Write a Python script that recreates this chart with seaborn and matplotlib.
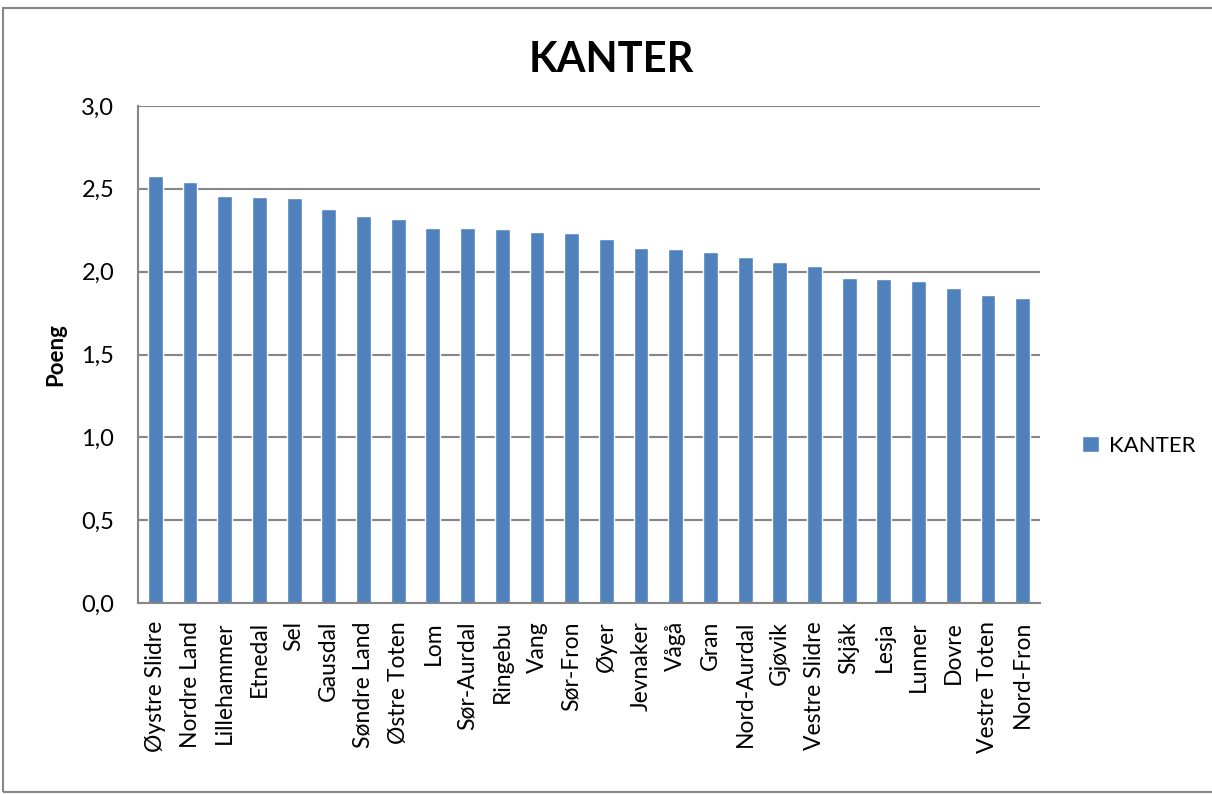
import matplotlib
matplotlib.use("Agg")
import matplotlib.pyplot as plt
import seaborn as sns
import pandas as pd
import numpy as np
from matplotlib.patches import Rectangle
from matplotlib.ticker import FixedLocator, FuncFormatter

categories = ["Øystre Slidre", "Nordre Land", "Lillehammer", "Etnedal", "Sel", "Gausdal",
              "Søndre Land", "Østre Toten", "Lom", "Sør-Aurdal", "Ringebu", "Vang",
              "Sør-Fron", "Øyer", "Jevnaker", "Vågå", "Gran", "Nord-Aurdal", "Gjøvik",
              "Vestre Slidre", "Skjåk", "Lesja", "Lunner", "Dovre", "Vestre Toten", "Nord-Fron"]
values = [2.58, 2.54, 2.455, 2.453, 2.445, 2.38, 2.335, 2.317, 2.266, 2.261, 2.26, 2.241,
          2.232, 2.199, 2.14, 2.136, 2.119, 2.086, 2.056, 2.034, 1.961, 1.958, 1.945, 1.902,
          1.858, 1.842]
series_name = "KANTER"
yticks = [0.0, 0.5, 1.0, 1.5, 2.0, 2.5, 3.0]

sns.set_style("white")
plt.rcParams['font.family'] = ['Lato', 'DejaVu Sans']

df = pd.DataFrame({"kommune": categories, "poeng": values, "serie": series_name})

fig = plt.figure(figsize=(12.12, 7.94), dpi=100)
ax = fig.add_axes([138/1212, 1-603/794, (1040-138)/1212, (603-106)/794])

sns.barplot(data=df, x="kommune", y="poeng", hue="serie", palette={series_name: "#4F81BD"},
            width=0.43, dodge=False, ax=ax, legend=True, saturation=1)

ax.set_ylim(0, 3.0)
ax.set_xlim(-0.5, len(categories) - 0.5)
ax.set_yticks(yticks)
ax.yaxis.set_major_formatter(FuncFormatter(lambda v, p: f"{v:.1f}".replace(".", ",")))
ax.grid(axis="y", color="#868686", linewidth=1.5)
ax.set_axisbelow(True)
for s in ["top", "right"]:
    ax.spines[s].set_visible(False)
for s in ["left", "bottom"]:
    ax.spines[s].set_color("#868686")
    ax.spines[s].set_linewidth(1.5)

ax.set_xticks(range(len(categories)))
ax.set_xticklabels(categories, rotation=90, fontsize=16.5, color="black")
ax.tick_params(axis="x", which="major", length=0, pad=13)
ax.xaxis.set_minor_locator(FixedLocator(np.arange(-0.5, len(categories), 1.0)))
ax.tick_params(axis="x", which="minor", length=5, color="#868686", width=1.2, direction="out")
ax.tick_params(axis="y", which="major", length=6, color="#868686", width=1.2, direction="out",
               labelsize=17, pad=11, labelcolor="black")
ax.set_xlabel("")
ax.set_ylabel("Poeng", fontsize=16, fontweight="bold", color="black")
ax.yaxis.set_label_coords((66-138)/(1040-138), 0.5)

fig.text(611/1212, 1-60/794, "KANTER", fontsize=30, fontweight="bold", ha="center", va="center",
         color="black")

leg = ax.legend(loc="center left", bbox_to_anchor=(1062/1212, 1-446/794),
                bbox_transform=fig.transFigure, frameon=False, fontsize=16,
                handlelength=0.75, handleheight=0.75, handletextpad=0.45)
for t in leg.get_texts():
    t.set_color("black")

fig.patches.append(Rectangle((3/1212, 2/794), 1, 1-10/794, transform=fig.transFigure,
                             fill=False, edgecolor="#868686", linewidth=1.5))

fig.savefig("out.png", dpi=100)
